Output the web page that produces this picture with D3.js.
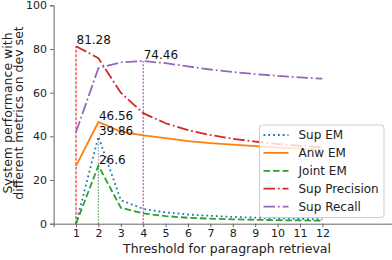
<!DOCTYPE html>
<html>
<head>
<meta charset="utf-8">
<script src="https://cdn.jsdelivr.net/npm/d3@7"></script>
<style>
  html, body { margin: 0; padding: 0; background: #fff; }
  svg { display: block; font-family: "DejaVu Sans", sans-serif; }
</style>
</head>
<body>
<svg id="chart" width="392" height="260"></svg>
<script>
// ----- data -----
const thresholds = [1, 2, 3, 4, 5, 6, 7, 8, 9, 10, 11, 12];
const supEM       = [0, 39.86, 10.8, 6.8, 5.2, 4.2, 3.6, 3.1, 2.8, 2.5, 2.2, 2.0];
const anwEM       = [26.5, 46.56, 42.2, 40.4, 39.2, 37.8, 36.9, 36.2, 35.5, 34.9, 34.4, 34.0];
const jointEM     = [0, 26.6, 7.3, 4.7, 3.5, 2.7, 2.3, 2.0, 1.8, 1.6, 1.5, 1.4];
const supPrecision = [81.28, 75.8, 60.0, 50.6, 46.0, 42.8, 40.6, 38.9, 37.6, 36.5, 35.6, 35.0];
const supRecall   = [42.0, 71.2, 73.9, 74.46, 73.5, 72.0, 70.6, 69.5, 68.5, 67.7, 67.0, 66.4];
const yTicks = [0, 20, 40, 60, 80, 100];

const seriesNames = ["Sup EM", "Anw EM", "Joint EM", "Sup Precision", "Sup Recall"];
const seriesVals = [supEM, anwEM, jointEM, supPrecision, supRecall];

// peak markers: [series index, threshold, value]
const peaks = [
  [3, 1, 81.28],
  [1, 2, 46.56],
  [0, 2, 39.86],
  [2, 2, 26.6],
  [4, 4, 74.46]
];

// ----- styles -----
const colors = ["#1f77b4", "#ff7f0e", "#2ca02c", "#d62728", "#9467bd"];
const dashes = ["1.8,3", null, "6.6,2.9", "11.5,2.9,1.8,2.9", "11.5,2.9,1.8,2.9"];
const vColors = ["#1f77b4", "#ff7f0e", "#2ca02c", "#ff0000", "#9b30b0"];
const vOpacity = [0.5, 0.35, 0.6, 1, 1];
const vDash = ["1.5,1.5", "1.5,1.5", "1.5,1.5", "3,1.5", "2,1.5"];

const svg = d3.select("#chart");

const x = d3.scaleLinear().domain([0, 15.5]).range([53.6, 400.8]);
const y = d3.scaleLinear().domain([0, 100]).range([223.7, 5.3]);

// ----- axes -----
const axisColor = "#666";

const yAxis = svg.append("g")
  .attr("transform", `translate(${x(0)},0)`)
  .call(d3.axisLeft(y).tickValues(yTicks).tickSize(3.5).tickPadding(3));
const xAxis = svg.append("g")
  .attr("transform", `translate(0,${y(0)})`)
  .call(d3.axisBottom(x).tickValues(thresholds).tickSize(3.5).tickPadding(2.5));

[yAxis, xAxis].forEach(a => {
  a.select(".domain").attr("stroke", axisColor).attr("stroke-width", 1);
  a.selectAll(".tick line").attr("stroke", axisColor);
  a.selectAll(".tick text")
    .attr("fill", "#222")
    .style("font-size", "11px")
    .style("font-family", "DejaVu Sans");
});

// axis labels
svg.append("text")
  .attr("x", 227)
  .attr("y", 253)
  .attr("text-anchor", "middle")
  .style("font-size", "12.5px")
  .attr("fill", "#222")
  .text("Threshold for paragraph retrieval");

const yl = svg.append("text")
  .attr("transform", `translate(12,113) rotate(-90)`)
  .attr("text-anchor", "middle")
  .style("font-size", "12.5px")
  .attr("fill", "#222");
yl.append("tspan").attr("x", 0).attr("dy", 0).text("System performance with");
yl.append("tspan").attr("x", 0).attr("dy", 10.5).text("different metrics on dev set");

// ----- vertical guide lines at the peaks -----
svg.selectAll(".vline")
  .data(peaks)
  .enter()
  .append("line")
  .attr("class", "vline")
  .attr("x1", d => x(d[1]))
  .attr("x2", d => x(d[1]))
  .attr("y1", y(0))
  .attr("y2", d => y(d[2]))
  .attr("stroke", d => vColors[d[0]])
  .attr("stroke-opacity", d => vOpacity[d[0]])
  .attr("stroke-width", 1)
  .attr("stroke-dasharray", d => vDash[d[0]]);

// ----- lines -----
const line = d3.line()
  .x((d, i) => x(thresholds[i]))
  .y(d => y(d));

svg.selectAll(".series")
  .data(seriesVals)
  .enter()
  .append("path")
  .attr("class", "series")
  .attr("fill", "none")
  .attr("stroke", (d, i) => colors[i])
  .attr("stroke-width", 1.8)
  .attr("stroke-dasharray", (d, i) => dashes[i])
  .attr("d", line);

// peak labels
svg.selectAll(".peakLabel")
  .data(peaks)
  .enter()
  .append("text")
  .attr("class", "peakLabel")
  .attr("x", d => x(d[1]) + 0.5)
  .attr("y", d => y(d[2]) - 2)
  .style("font-size", "12px")
  .attr("fill", "#111")
  .text(d => d[2]);

// ----- legend -----
const lg = svg.append("g").attr("transform", "translate(259.5,125)");
lg.append("rect")
  .attr("width", 124.5)
  .attr("height", 92.5)
  .attr("rx", 3)
  .attr("fill", "#fff")
  .attr("fill-opacity", 0.8)
  .attr("stroke", "#ccc")
  .attr("stroke-width", 1);

const rows = lg.selectAll(".lrow")
  .data(seriesNames)
  .enter()
  .append("g")
  .attr("transform", (d, i) => `translate(0,${10 + i * 17.9})`);

rows.append("line")
  .attr("x1", 4).attr("x2", 29)
  .attr("stroke", (d, i) => colors[i])
  .attr("stroke-width", 1.8)
  .attr("stroke-dasharray", (d, i) => dashes[i]);

rows.append("text")
  .attr("x", 39)
  .attr("dy", "0.36em")
  .style("font-size", "12px")
  .attr("fill", "#222")
  .text(d => d);
</script>
</body>
</html>
